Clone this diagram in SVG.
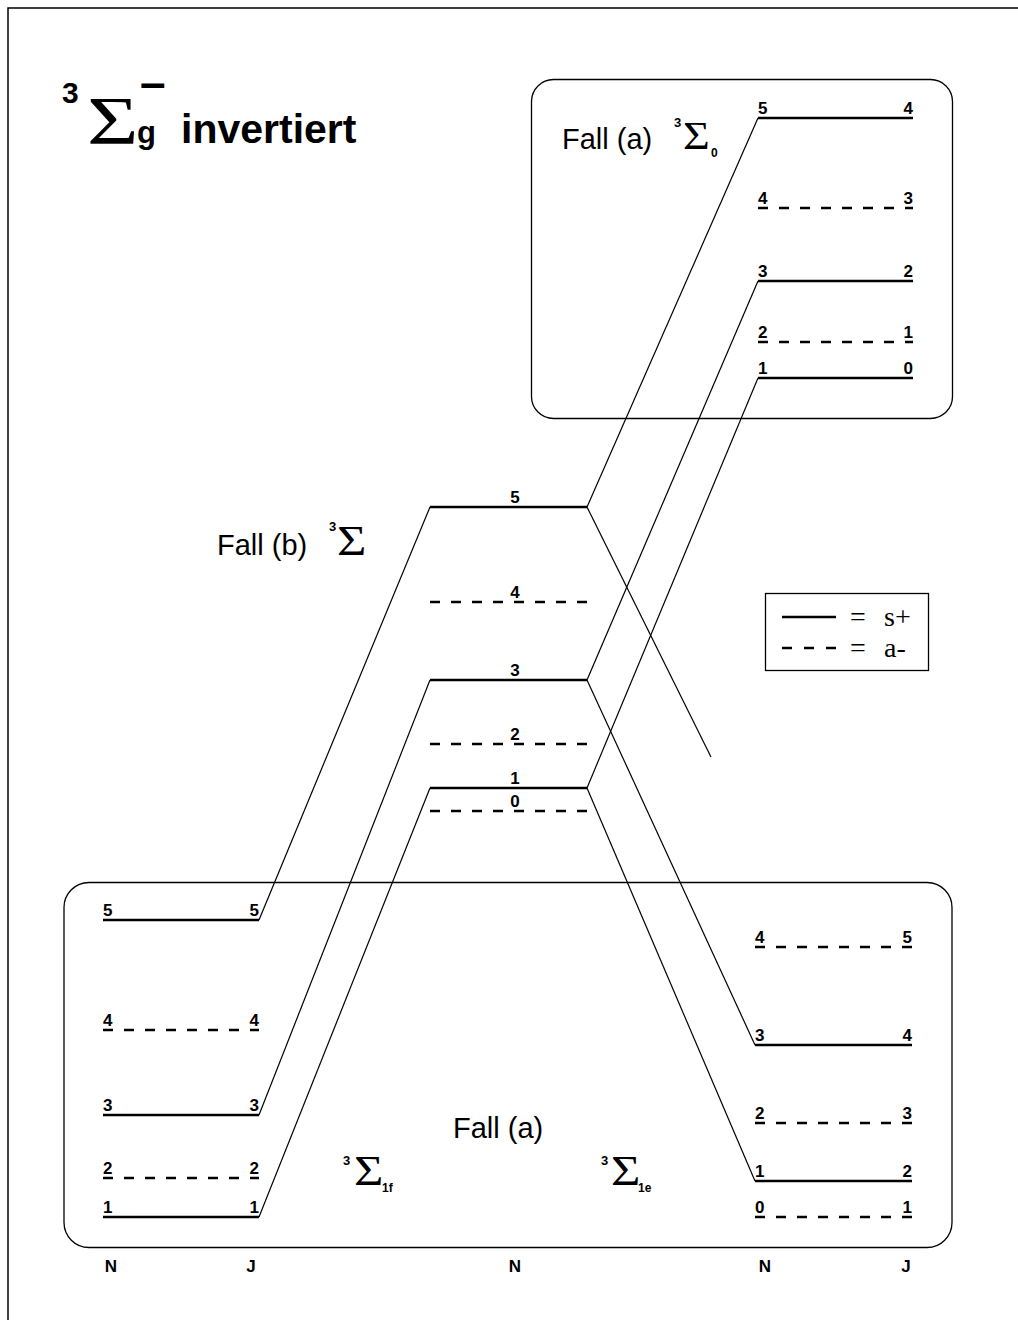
<svg xmlns="http://www.w3.org/2000/svg" width="1018" height="1320" viewBox="0 0 1018 1320">
<style>
.lv{stroke:#000;stroke-width:2.5;fill:none}
.lvd{stroke:#000;stroke-width:2.5;fill:none;stroke-dasharray:10 11}
.cn{stroke:#000;stroke-width:1.2;fill:none}
.box{stroke:#000;stroke-width:1.3;fill:none}
.num{font-family:"Liberation Sans",Arial,sans-serif;font-weight:bold;font-size:17px;fill:#000}
.ax{font-family:"Liberation Sans",Arial,sans-serif;font-weight:bold;font-size:17px;fill:#000;text-anchor:middle}
.fall{font-family:"Liberation Sans",Arial,sans-serif;font-size:29px;fill:#000}
.sig{font-family:"Liberation Serif","Times New Roman",serif;fill:#000}
.sup{font-family:"Liberation Sans",Arial,sans-serif;font-weight:bold;fill:#000}
.leg{font-family:"Liberation Serif","Times New Roman",serif;font-size:28px;fill:#000}
.r{text-anchor:end}
.m{text-anchor:middle}
</style>
<rect width="1018" height="1320" fill="#fff"/>
<path d="M8,1320 V8 H1018" stroke="#000" stroke-width="1.5" fill="none"/>

<g id="title">
<text class="sup" x="62" y="103" font-size="30">3</text>
<text class="sig" transform="translate(87,143) scale(1.3,1)" font-size="68">Σ</text>
<text class="sup" x="140" y="98" font-size="46" font-weight="normal">–</text>
<text class="sup" x="137" y="143" font-size="31">g</text>
<text class="sup" x="181" y="143" font-size="41">invertiert</text>
</g>

<g id="box-top">
<rect class="box" x="531.5" y="79.5" width="421" height="339" rx="22"/>
<text class="fall" x="562" y="149">Fall (a)</text>
<text class="sup" x="674" y="127" font-size="13">3</text>
<text class="sig" transform="translate(683,149) scale(1.18,1)" font-size="39">Σ</text>
<text class="sup" x="711" y="157" font-size="12">0</text>
</g>

<g id="box-bottom">
<rect class="box" x="64" y="882.5" width="888" height="365" rx="25"/>
<text class="fall" x="453" y="1138">Fall (a)</text>
<text class="sup" x="343" y="1165" font-size="13">3</text>
<text class="sig" transform="translate(354,1185) scale(1.2,1)" font-size="42">Σ</text>
<text class="sup" x="382" y="1192" font-size="12">1f</text>
<text class="sup" x="601" y="1165" font-size="13">3</text>
<text class="sig" transform="translate(611,1185) scale(1.2,1)" font-size="42">Σ</text>
<text class="sup" x="638" y="1192" font-size="12">1e</text>
</g>

<g id="label-b">
<text class="fall" x="217" y="555">Fall (b)</text>
<text class="sup" x="329" y="531" font-size="13">3</text>
<text class="sig" transform="translate(337,555) scale(1.2,1)" font-size="42">Σ</text>
</g>

<g id="legend">
<rect class="box" x="765.5" y="593.5" width="163" height="77"/>
<line class="lv" x1="782" y1="617" x2="836" y2="617"/>
<line class="lv" x1="782" y1="648" x2="836" y2="648" stroke-dasharray="10 12"/>
<text class="leg m" x="858" y="626">=</text>
<text class="leg" x="884" y="626">s+</text>
<text class="leg m" x="858" y="657">=</text>
<text class="leg" x="884" y="657">a-</text>
</g>

<g id="connectors">
<line class="cn" x1="587" y1="507" x2="758" y2="118"/>
<line class="cn" x1="587" y1="680" x2="758" y2="281"/>
<line class="cn" x1="587" y1="788" x2="758" y2="378"/>
<line class="cn" x1="587" y1="507" x2="711" y2="757"/>
<line class="cn" x1="587" y1="680" x2="755" y2="1045"/>
<line class="cn" x1="587" y1="788" x2="755" y2="1181"/>
<line class="cn" x1="430" y1="507" x2="259" y2="920"/>
<line class="cn" x1="430" y1="680" x2="259" y2="1115"/>
<line class="cn" x1="430" y1="788" x2="259" y2="1217"/>
</g>

<!-- Fall (b) centre levels -->
<g id="b5"><line class="lv" x1="430" y1="507" x2="587" y2="507"/><text class="num m" x="515" y="503">5</text></g>
<g id="b4"><line class="lvd" x1="430" y1="602" x2="587" y2="602"/><text class="num m" x="515" y="598">4</text></g>
<g id="b3"><line class="lv" x1="430" y1="680" x2="587" y2="680"/><text class="num m" x="515" y="676">3</text></g>
<g id="b2"><line class="lvd" x1="430" y1="744" x2="587" y2="744"/><text class="num m" x="515" y="740">2</text></g>
<g id="b1"><line class="lv" x1="430" y1="788" x2="587" y2="788"/><text class="num m" x="515" y="784">1</text></g>
<g id="b0"><line class="lvd" x1="430" y1="811" x2="587" y2="811"/><text class="num m" x="515" y="807">0</text></g>

<!-- top-right Fall (a) Sigma0 -->
<g id="t54"><line class="lv" x1="758" y1="118" x2="913" y2="118"/><text class="num" x="758" y="114">5</text><text class="num r" x="913" y="114">4</text></g>
<g id="t43"><line class="lvd" x1="758" y1="208" x2="913" y2="208"/><text class="num" x="758" y="204">4</text><text class="num r" x="913" y="204">3</text></g>
<g id="t32"><line class="lv" x1="758" y1="281" x2="913" y2="281"/><text class="num" x="758" y="277">3</text><text class="num r" x="913" y="277">2</text></g>
<g id="t21"><line class="lvd" x1="758" y1="342" x2="913" y2="342"/><text class="num" x="758" y="338">2</text><text class="num r" x="913" y="338">1</text></g>
<g id="t10"><line class="lv" x1="758" y1="378" x2="913" y2="378"/><text class="num" x="758" y="374">1</text><text class="num r" x="913" y="374">0</text></g>

<!-- bottom-left Sigma1f -->
<g id="l55"><line class="lv" x1="103" y1="920" x2="259" y2="920"/><text class="num" x="103" y="916">5</text><text class="num r" x="259" y="916">5</text></g>
<g id="l44"><line class="lvd" x1="103" y1="1030" x2="259" y2="1030"/><text class="num" x="103" y="1026">4</text><text class="num r" x="259" y="1026">4</text></g>
<g id="l33"><line class="lv" x1="103" y1="1115" x2="259" y2="1115"/><text class="num" x="103" y="1111">3</text><text class="num r" x="259" y="1111">3</text></g>
<g id="l22"><line class="lvd" x1="103" y1="1178" x2="259" y2="1178"/><text class="num" x="103" y="1174">2</text><text class="num r" x="259" y="1174">2</text></g>
<g id="l11"><line class="lv" x1="103" y1="1217" x2="259" y2="1217"/><text class="num" x="103" y="1213">1</text><text class="num r" x="259" y="1213">1</text></g>

<!-- bottom-right Sigma1e -->
<g id="r45"><line class="lvd" x1="755" y1="947" x2="912" y2="947"/><text class="num" x="755" y="943">4</text><text class="num r" x="912" y="943">5</text></g>
<g id="r34"><line class="lv" x1="755" y1="1045" x2="912" y2="1045"/><text class="num" x="755" y="1041">3</text><text class="num r" x="912" y="1041">4</text></g>
<g id="r23"><line class="lvd" x1="755" y1="1123" x2="912" y2="1123"/><text class="num" x="755" y="1119">2</text><text class="num r" x="912" y="1119">3</text></g>
<g id="r12"><line class="lv" x1="755" y1="1181" x2="912" y2="1181"/><text class="num" x="755" y="1177">1</text><text class="num r" x="912" y="1177">2</text></g>
<g id="r01"><line class="lvd" x1="755" y1="1217" x2="912" y2="1217"/><text class="num" x="755" y="1213">0</text><text class="num r" x="912" y="1213">1</text></g>

<g id="axis">
<text class="ax" x="111" y="1272">N</text>
<text class="ax" x="251" y="1272">J</text>
<text class="ax" x="515" y="1272">N</text>
<text class="ax" x="765" y="1272">N</text>
<text class="ax" x="906" y="1272">J</text>
</g>
</svg>
